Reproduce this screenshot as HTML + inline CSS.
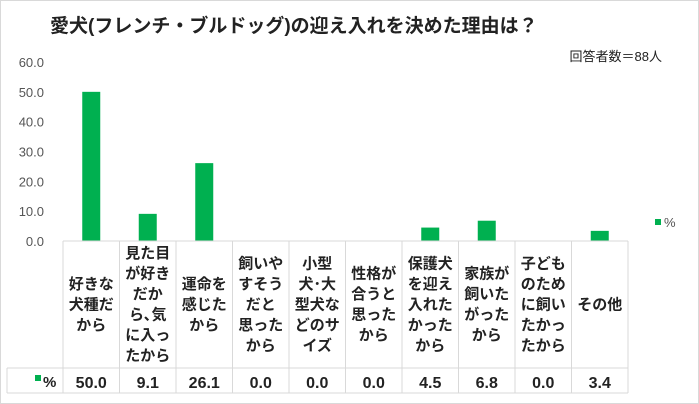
<!DOCTYPE html>
<html><head><meta charset="utf-8"><style>
body{margin:0;background:#fff;}
svg{display:block;font-family:"Liberation Sans","Noto Sans CJK JP",sans-serif;}
</style></head><body>
<svg width="699" height="404" viewBox="0 0 699 404">
<rect x="0.5" y="0.5" width="698" height="403" fill="#fff" stroke="#d9d9d9"/>
<text x="50" y="32" font-size="19" font-weight="bold" fill="#222">愛犬(フレンチ・ブルドッグ)の迎え入れを決めた理由は？</text>
<text x="662" y="61" font-size="13" text-anchor="end" fill="#222">回答者数＝88人</text>
<g id="yaxis"></g>
<g id="bars"></g>
<g id="table"></g>
<rect x="655" y="219" width="6" height="6" fill="#00b050"/>
<text x="664" y="227" font-size="13" fill="#555">%</text>
</svg>
<script>
const categories = [["好きな","犬種だ","から"],["見た目","が好き","だか","ら､気","に入っ","たから"],["運命を","感じた","から"],["飼いや","すそう","だと","思った","から"],["小型","犬･大","型犬な","どのサ","イズ"],["性格が","合うと","思った","から"],["保護犬","を迎え","入れた","かった","から"],["家族が","飼いた","がった","から"],["子ども","のため","に飼い","たかっ","たから"],["その他"]];
const values = [50.0, 9.1, 26.1, 0.0, 0.0, 0.0, 4.5, 6.8, 0.0, 3.4];
const valueLabels = ["50.0","9.1","26.1","0.0","0.0","0.0","4.5","6.8","0.0","3.4"];
const yTicks = [0, 10, 20, 30, 40, 50, 60];
const yTickLabels = ["0.0","10.0","20.0","30.0","40.0","50.0","60.0"];

const NS = "http://www.w3.org/2000/svg";
const x0 = 63, colW = 56.5, y0 = 241, yTop = 62, yMax = 60;
const yS = v => y0 - (v / yMax) * (y0 - yTop);
const xC = i => x0 + colW * i + colW / 2;
function mk(tag, attrs, parent, text) {
  const e = document.createElementNS(NS, tag);
  for (const k in attrs) e.setAttribute(k, attrs[k]);
  if (text !== undefined) e.textContent = text;
  document.getElementById(parent).appendChild(e);
  return e;
}
yTicks.forEach((t, i) => {
  const e = mk("text", {x: 44, y: yS(t) + 5, "font-size": 13, "text-anchor": "end", fill: "#555"}, "yaxis", yTickLabels[i]);
  
  
});
values.forEach((v, i) => {
  const r = mk("rect", {x: xC(i) - 9, y: yS(v), width: 18, height: y0 - yS(v), fill: "#00b050"}, "bars");
  
  
});
// table grid
const xEnd = x0 + colW * values.length, rowTop = 368, rowBot = 393;
const g = {stroke: "#d9d9d9", "stroke-width": 1};
let ln = mk("line", Object.assign({x1: x0, y1: y0, x2: xEnd, y2: y0}, g), "table");
 
ln = mk("line", Object.assign({x1: 7, y1: rowTop, x2: xEnd, y2: rowTop}, g), "table");
 
ln = mk("line", Object.assign({x1: 7, y1: rowBot, x2: xEnd, y2: rowBot}, g), "table");
 
ln = mk("line", Object.assign({x1: 7, y1: rowTop, x2: 7, y2: rowBot}, g), "table");
 
for (let i = 0; i <= values.length; i++) {
  const x = x0 + colW * i;
  const l = mk("line", Object.assign({x1: x, y1: y0, x2: x, y2: rowBot}, g), "table");
  
  
}
const lh = 20.5, mid = (y0 + rowTop) / 2;
categories.forEach((lines, i) => {
  const start = mid - (lines.length * lh) / 2 + 15;
  lines.forEach((s, j) => {
    const t = mk("text", {x: xC(i), y: start + j * lh, "font-size": 15, "font-weight": "bold", "text-anchor": "middle", fill: "#222"}, "table", s);
    
    
  });
  const v = mk("text", {x: xC(i), y: 388, "font-size": 16, "font-weight": "bold", "text-anchor": "middle", fill: "#222"}, "table", valueLabels[i]);
  
  
});
const sw = mk("rect", {x: 35, y: 375, width: 6, height: 6, fill: "#00b050"}, "table");


const pl = mk("text", {x: 43, y: 387, "font-size": 15, "font-weight": "bold", fill: "#222"}, "table", "%");


</script>
</body></html>
